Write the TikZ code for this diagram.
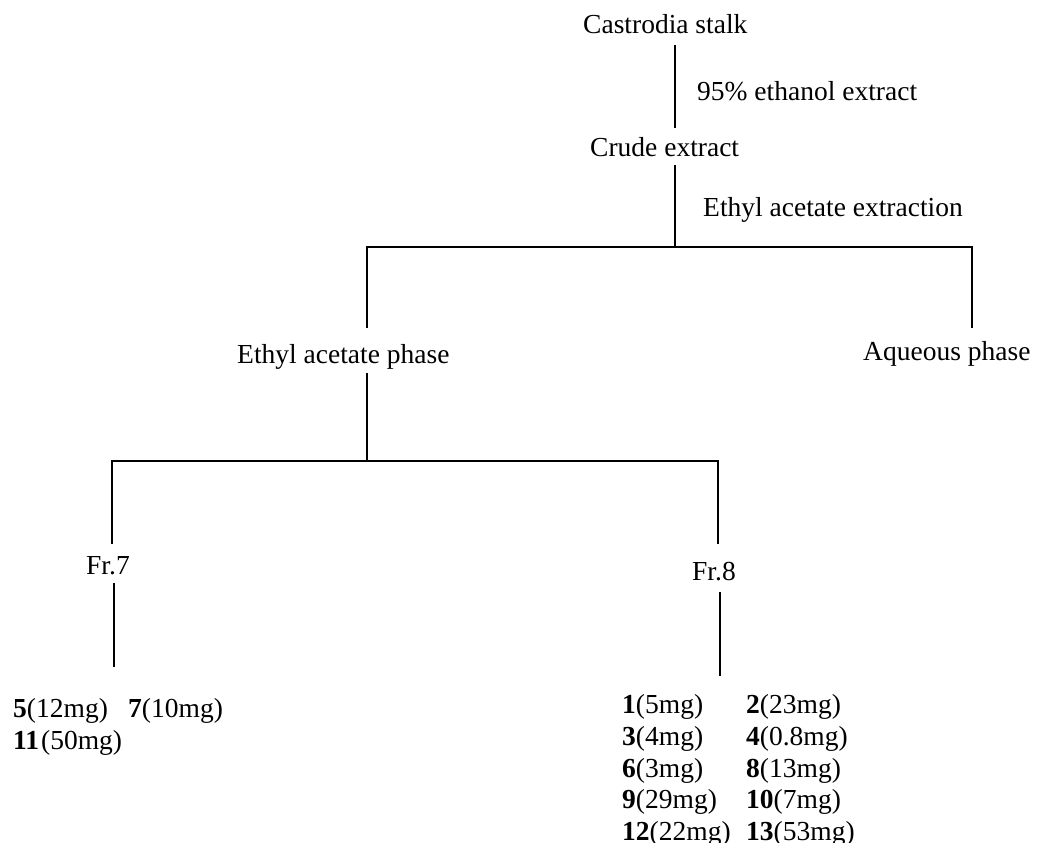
\documentclass[tikz,border=0pt]{standalone}
\usepackage{fontspec}
\setmainfont{Liberation Serif}
\tikzset{
  lbl/.style={anchor=base west,inner sep=0pt,font=\fontsize{27.5}{32}\selectfont},
  conn/.style={line width=2.7pt,line join=miter}
}
\begin{document}
\begin{tikzpicture}[x=1pt,y=-1pt]
\useasboundingbox (0,0) rectangle (1037,843);
% text nodes
\node[lbl] (castrodia) at (583,34) {Castrodia stalk};
\node[lbl] (ethanol) at (697,100) {95\% ethanol extract};
\node[lbl] (crude) at (590,157) {Crude extract};
\node[lbl] (eaext) at (703,216) {Ethyl acetate extraction};
\node[lbl] (eaphase) at (237,363) {Ethyl acetate phase};
\node[lbl] (aqueous) at (863,360) {Aqueous phase};
\node[lbl] (fr7) at (86,574) {Fr.7};
\node[lbl] (fr8) at (692,580) {Fr.8};
% compounds under Fr.7
\node[lbl] (c5) at (13,717) {\textbf{5}(12mg)};
\node[lbl] (c7) at (128,717) {\textbf{7}(10mg)};
\node[lbl] (c11) at (13,749) {\textbf{11}\kern2pt(50mg)};
% compounds under Fr.8
\node[lbl] (c1) at (622,713) {\textbf{1}(5mg)};
\node[lbl] (c2) at (746,713) {\textbf{2}(23mg)};
\node[lbl] (c3) at (622,745) {\textbf{3}(4mg)};
\node[lbl] (c4) at (746,745) {\textbf{4}(0.8mg)};
\node[lbl] (c6) at (622,777) {\textbf{6}(3mg)};
\node[lbl] (c8) at (746,777) {\textbf{8}(13mg)};
\node[lbl] (c9) at (622,808) {\textbf{9}(29mg)};
\node[lbl] (c10) at (746,808) {\textbf{10}(7mg)};
\node[lbl] (c12) at (622,840) {\textbf{12}(22mg)};
\node[lbl] (c13) at (746,840) {\textbf{13}(53mg)};
% connector end points
\coordinate (a1) at (675,45);
\coordinate (a2) at (675,128);
\coordinate (b1) at (675,165);
\coordinate (b2) at (675,247);
\coordinate (bl) at (367,247);
\coordinate (br) at (972,247);
\coordinate (blb) at (367,328);
\coordinate (brb) at (972,328);
\coordinate (e1) at (367,373);
\coordinate (e2) at (367,461);
\coordinate (fl) at (112,461);
\coordinate (fr) at (718,461);
\coordinate (flb) at (112,544);
\coordinate (frb) at (718,544);
\coordinate (g1) at (114,583);
\coordinate (g2) at (114,667);
\coordinate (h1) at (720,592);
\coordinate (h2) at (720,676);
% connectors
\draw[conn] (a1) -- (a2);
\draw[conn] (b1) -- (b2);
\draw[conn] (blb) -- (bl) -- (br) -- (brb);
\draw[conn] (e1) -- (e2);
\draw[conn] (flb) -- (fl) -- (fr) -- (frb);
\draw[conn] (g1) -- (g2);
\draw[conn] (h1) -- (h2);
\end{tikzpicture}
\end{document}
